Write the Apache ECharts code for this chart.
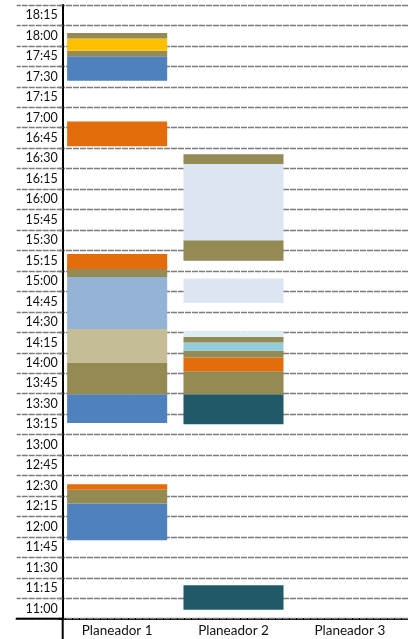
<!DOCTYPE html>
<html>
<head>
<meta charset="utf-8">
<title>Planeadores</title>
<script src="https://cdn.jsdelivr.net/npm/echarts@6/dist/echarts.min.js"></script>
<style>
  html, body { margin: 0; padding: 0; background: #fff; }
  #chart { width: 408px; height: 639px; }
</style>
</head>
<body>
<div id="chart"></div>
<script>
// Planners shown along the bottom
const categories = ['Planeador 1', 'Planeador 2', 'Planeador 3'];

// Time slots listed on the vertical axis (bottom to top)
const timeLabels = [
  '11:00', '11:15', '11:30', '11:45', '12:00', '12:15', '12:30', '12:45',
  '13:00', '13:15', '13:30', '13:45', '14:00', '14:15', '14:30', '14:45',
  '15:00', '15:15', '15:30', '15:45', '16:00', '16:15', '16:30', '16:45',
  '17:00', '17:15', '17:30', '17:45', '18:00', '18:15'
];

// Activity blocks per planner: [start, end, activity type]
const planeador1 = [
  ['11:50', '12:17', 'azul'],
  ['12:17', '12:27', 'oliva'],
  ['12:27', '12:31', 'naranja'],
  ['13:16', '13:37', 'azul'],
  ['13:37', '14:00', 'oliva'],
  ['14:00', '14:25', 'arena'],
  ['14:25', '15:03', 'acero'],
  ['15:03', '15:12', 'oliva'],
  ['15:09', '15:20', 'naranja'],
  ['16:39', '16:57', 'naranja'],
  ['17:27', '17:45', 'azul'],
  ['17:45', '17:49', 'oliva'],
  ['17:49', '17:58', 'amarillo'],
  ['17:58', '18:02', 'oliva']
];

const planeador2 = [
  ['10:59', '11:17', 'petroleo'],
  ['13:15', '13:37', 'petroleo'],
  ['13:37', '13:54', 'oliva'],
  ['13:54', '14:04', 'naranja'],
  ['14:04', '14:09', 'oliva'],
  ['14:09', '14:15', 'celeste'],
  ['14:15', '14:19', 'oliva'],
  ['14:19', '14:23', 'hielo'],
  ['14:44', '15:02', 'niebla'],
  ['15:15', '15:30', 'oliva'],
  ['15:30', '16:26', 'niebla'],
  ['16:26', '16:33', 'oliva']
];

const planeador3 = [];

// Fill colour for each activity type
const typeColors = {
  oliva: '#948A54',
  azul: '#4F81BD',
  amarillo: '#FFC000',
  naranja: '#E46C0A',
  arena: '#C4BD97',
  acero: '#95B3D7',
  niebla: '#DCE6F2',
  petroleo: '#215968',
  celeste: '#92CDDC',
  hielo: '#DAEEF3'
};

function toMinutes(t) {
  const [h, m] = t.split(':').map(Number);
  return h * 60 + m;
}

// Each labelled slot is a 15-minute band centred on its label
const SLOT = 15;
const axisMin = toMinutes(timeLabels[0]) - SLOT / 2;
const axisMax = toMinutes(timeLabels[timeLabels.length - 1]) + SLOT / 2;

const blocks = [];
[planeador1, planeador2, planeador3].forEach((list, idx) => {
  list.forEach(([start, end, type]) => {
    blocks.push({
      value: [idx, toMinutes(start), toMinutes(end)],
      itemStyle: { color: typeColors[type] }
    });
  });
});

// Layout
const H = 639;
const GRID_LEFT = 59, GRID_WIDTH = 351.6, GRID_TOP = 5, GRID_BOTTOM = 20.3;
const AXIS_SHIFT = 3.7;   // vertical axis line sits slightly inside the plot
const TICK_LEN = 46;
const FONT = 'Lato, "Open Sans", sans-serif';
const GRID_LINE = { color: '#7c7c7c', width: 1.3, type: [6, 1] };

const chart = echarts.init(document.getElementById('chart'), null, { renderer: 'canvas' });

chart.setOption({
  animation: false,
  backgroundColor: '#ffffff',
  grid: { left: GRID_LEFT, width: GRID_WIDTH, top: GRID_TOP, bottom: GRID_BOTTOM, containLabel: false },
  xAxis: {
    type: 'category',
    data: categories,
    boundaryGap: true,
    axisLine: { show: true, lineStyle: { color: '#000', width: 2 } },
    axisTick: { show: false },
    splitLine: { show: false },
    axisLabel: { color: '#111', fontFamily: FONT, fontSize: 13.5, margin: 5 }
  },
  yAxis: [
    {
      type: 'value',
      position: 'left',
      min: axisMin,
      max: axisMax,
      show: false,
      splitLine: { show: false }
    },
    {
      type: 'category',
      position: 'left',
      data: timeLabels,
      boundaryGap: true,
      offset: -AXIS_SHIFT,
      axisLine: { show: true, onZero: false, lineStyle: { color: '#000', width: 2 } },
      axisTick: { show: true, length: TICK_LEN, lineStyle: GRID_LINE },
      splitLine: { show: true, lineStyle: GRID_LINE },
      axisLabel: { color: '#111', fontFamily: FONT, fontSize: 12.5, margin: 5, interval: 0 },
      z: 1
    }
  ],
  series: [{
    type: 'custom',
    xAxisIndex: 0,
    yAxisIndex: 0,
    encode: { x: 0, y: [1, 2] },
    data: blocks,
    z: 3,
    renderItem: function (params, api) {
      const cat = api.value(0);
      const p0 = api.coord([cat, api.value(1)]);
      const p1 = api.coord([cat, api.value(2)]);
      const w = api.size([1, 0])[0] * 0.86;
      return {
        type: 'rect',
        shape: { x: p0[0] - w / 2, y: p1[1], width: w, height: p0[1] - p1[1] },
        style: { fill: api.visual('color') }
      };
    }
  }]
});

// Extend the axis frame: baseline into the label column, vertical axis below the baseline
const bottomY = chart.convertToPixel({ yAxisIndex: 0 }, axisMin);
const axisX = GRID_LEFT + AXIS_SHIFT;
chart.setOption({
  graphic: [
    {
      type: 'line', z: 10,
      shape: { x1: axisX - TICK_LEN - 1, y1: bottomY, x2: axisX, y2: bottomY },
      style: { stroke: '#000', lineWidth: 2 }
    },
    {
      type: 'line', z: 10,
      shape: { x1: axisX, y1: bottomY, x2: axisX, y2: H },
      style: { stroke: '#000', lineWidth: 2 }
    }
  ]
});
</script>
</body>
</html>
